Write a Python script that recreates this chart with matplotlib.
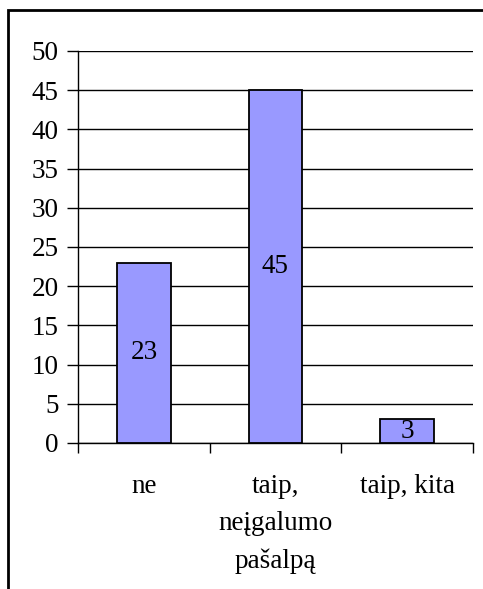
import matplotlib.pyplot as plt
from matplotlib.patches import Rectangle

categories = ["ne", "taip,\nneįgalumo\npašalpą", "taip, kita"]
values = [23, 45, 3]
yticks = [0, 5, 10, 15, 20, 25, 30, 35, 40, 45, 50]

plt.rcParams['font.family'] = ['Liberation Serif', 'DejaVu Serif']

W, H = 483, 589
fs = 19.5
fig = plt.figure(figsize=(W / 100, H / 100), dpi=100)

# outer frame (cut off at right and bottom like the original)
fig.patches.append(Rectangle((8 / W, -0.1), 1.2, 1 - 10 / H + 0.1,
                             transform=fig.transFigure, fill=False,
                             edgecolor='black', linewidth=2, zorder=0))

ax = fig.add_axes([78 / W, 1 - 443 / H, (473 - 78) / W, (443 - 51) / H])

x = list(range(len(categories)))
bars = ax.bar(x, values, width=0.41, color='#9999FF', edgecolor='black',
              linewidth=1.3, zorder=3)

for b, v in zip(bars, values):
    ax.text(b.get_x() + b.get_width() / 2, v / 2, str(v), ha='center',
            va='center', fontsize=fs, zorder=4)

ax.set_xlim(-0.5, len(categories) - 0.5)
ax.set_ylim(0, 50)
ax.set_yticks(yticks)
ax.tick_params(axis='y', labelsize=fs, length=8, width=1, pad=6)
ax.yaxis.grid(True, color='black', linewidth=1)
ax.set_axisbelow(True)

# category ticks at boundaries, labels at centers
ax.set_xticks([i - 0.5 for i in range(len(categories) + 1)])
ax.set_xticklabels([])
ax.set_xticks(x, minor=True)
ax.set_xticklabels(categories, minor=True, fontsize=fs, linespacing=1.65)
ax.tick_params(axis='x', which='major', length=7, width=1)
ax.tick_params(axis='x', which='minor', length=0, pad=22)

for s in ['top', 'right']:
    ax.spines[s].set_visible(False)
ax.spines['left'].set_linewidth(1)
ax.spines['bottom'].set_linewidth(1)

fig.savefig('out.png', dpi=100)
